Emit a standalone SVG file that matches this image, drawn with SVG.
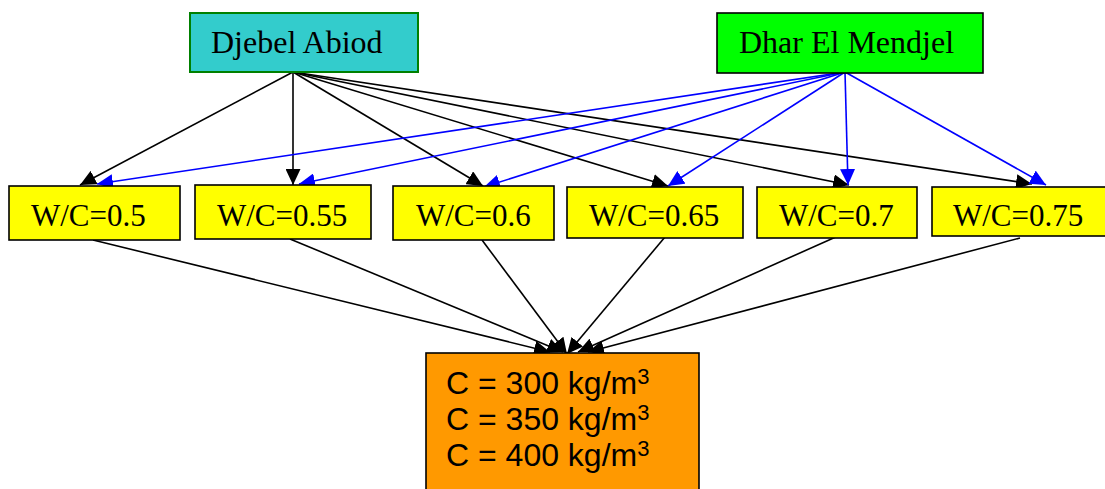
<svg xmlns="http://www.w3.org/2000/svg" width="1105" height="489" viewBox="0 0 1105 489">
<style>
.serif{font-family:"Liberation Serif","Times New Roman",serif;font-size:31px;fill:#000}
.top{font-size:32px}
.sans{font-family:"Liberation Sans",Arial,sans-serif;font-size:32px;fill:#000}
.sup{font-size:22px}
.box{stroke:#000;stroke-width:1.6}
.wc{fill:#FFFF00}
.k{stroke:#000;stroke-width:1.6;fill:none;marker-end:url(#ak)}
.b{stroke:#0000FF;stroke-width:1.6;fill:none;marker-end:url(#ab)}
</style>
<defs>
<marker id="ak" viewBox="0 0 16 15" markerUnits="userSpaceOnUse" markerWidth="16" markerHeight="15" refX="16" refY="7.5" orient="auto"><path d="M0,0 L16,7.5 L0,15 z" fill="#000"/></marker>
<marker id="ab" viewBox="0 0 16 15" markerUnits="userSpaceOnUse" markerWidth="16" markerHeight="15" refX="16" refY="7.5" orient="auto"><path d="M0,0 L16,7.5 L0,15 z" fill="#0000FF"/></marker>
</defs>
<rect width="1105" height="489" fill="#fff"/>
<g id="connectors">
<line class="k" x1="293" y1="72" x2="80" y2="185"/>
<line class="k" x1="293" y1="72" x2="293" y2="185"/>
<line class="k" x1="293" y1="72" x2="483" y2="186"/>
<line class="k" x1="293" y1="72" x2="668" y2="186"/>
<line class="k" x1="293" y1="72" x2="849" y2="185"/>
<line class="k" x1="293" y1="72" x2="1032" y2="184"/>
<line class="b" x1="845" y1="72" x2="97" y2="184"/>
<line class="b" x1="845" y1="72" x2="299" y2="184"/>
<line class="b" x1="845" y1="72" x2="484" y2="187"/>
<line class="b" x1="845" y1="72" x2="668" y2="186"/>
<line class="b" x1="845" y1="72" x2="848" y2="185"/>
<line class="b" x1="845" y1="72" x2="1046" y2="185"/>
<line class="k" x1="93" y1="240" x2="550" y2="352"/>
<line class="k" x1="290" y1="239" x2="563" y2="352"/>
<line class="k" x1="482" y1="240" x2="567" y2="354"/>
<line class="k" x1="665" y1="237" x2="567" y2="354"/>
<line class="k" x1="838" y1="236" x2="578" y2="352"/>
<line class="k" x1="1020" y1="238" x2="588" y2="352"/>
</g>
<g id="djebel-abiod">
<rect x="190" y="13" width="228" height="59" fill="#33CCCC" stroke="#008000" stroke-width="2"/>
<text class="serif top" x="211" y="53">Djebel Abiod</text>
</g>
<g id="dhar-el-mendjel">
<rect class="box" x="717" y="13" width="266" height="60" fill="#00FF00"/>
<text class="serif top" x="739" y="53">Dhar El Mendjel</text>
</g>
<g id="wc05">
<rect class="box wc" x="9" y="186" width="171" height="54"/>
<text class="serif" x="31" y="226">W/C=0.5</text>
</g>
<g id="wc055">
<rect class="box wc" x="195" y="185" width="176" height="54"/>
<text class="serif" x="217" y="226">W/C=0.55</text>
</g>
<g id="wc06">
<rect class="box wc" x="393" y="186" width="161" height="54"/>
<text class="serif" x="416" y="226">W/C=0.6</text>
</g>
<g id="wc065">
<rect class="box wc" x="567" y="187" width="176" height="51"/>
<text class="serif" x="589" y="226">W/C=0.65</text>
</g>
<g id="wc07">
<rect class="box wc" x="757" y="187" width="160" height="51"/>
<text class="serif" x="779" y="226">W/C=0.7</text>
</g>
<g id="wc075">
<rect class="box wc" x="932" y="187" width="190" height="49"/>
<text class="serif" x="953" y="226">W/C=0.75</text>
</g>
<g id="cement">
<rect class="box" x="426" y="353" width="273" height="150" fill="#FF9900"/>
<text class="sans" x="446" y="394">C = 300 kg/m<tspan class="sup" dy="-10">3</tspan></text>
<text class="sans" x="446" y="430">C = 350 kg/m<tspan class="sup" dy="-10">3</tspan></text>
<text class="sans" x="446" y="466">C = 400 kg/m<tspan class="sup" dy="-10">3</tspan></text>
</g>
</svg>
